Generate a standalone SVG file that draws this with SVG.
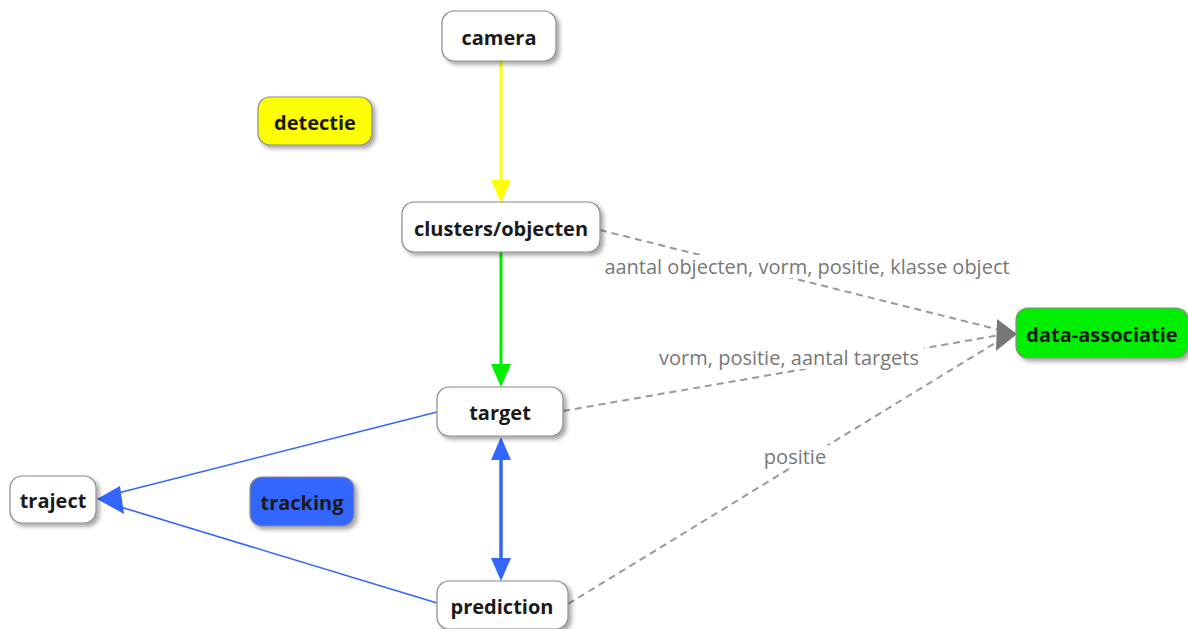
<svg xmlns="http://www.w3.org/2000/svg" width="1188" height="629" viewBox="0 0 1188 629">
<defs>
<filter id="sh" x="-20%" y="-30%" width="150%" height="170%">
<feDropShadow dx="3" dy="3" stdDeviation="2" flood-color="#000" flood-opacity="0.35"/>
</filter>
</defs>
<style>
.n rect{stroke:#8a8a8a;stroke-width:1.2;filter:url(#sh)}
.n text{font-family:"Open Sans","Noto Sans",sans-serif;font-weight:bold;font-size:20px;fill:#1a1a1a;text-anchor:middle;dominant-baseline:central}
.lbl{font-family:"Open Sans","Noto Sans",sans-serif;font-size:20px;fill:#777;text-anchor:middle;dominant-baseline:central}
.bg{fill:#fff}
.dash{stroke:#999;stroke-width:2;stroke-dasharray:7,5;fill:none}
</style>
<rect width="1188" height="629" fill="#fff"/>
<g id="connectors">
<line x1="501" y1="61" x2="501" y2="184" stroke="#ffff00" stroke-width="3"/>
<polygon points="501,203 491,180 511,180" fill="#ffff00"/>
<line x1="501" y1="252" x2="501" y2="368" stroke="#00ee00" stroke-width="3"/>
<polygon points="501,387 491,364 511,364" fill="#00ee00"/>
<line x1="501" y1="456" x2="501" y2="562" stroke="#3366ff" stroke-width="3.5"/>
<polygon points="501,437 491,460 511,460" fill="#3366ff"/>
<polygon points="501,581 491,558 511,558" fill="#3366ff"/>
<line x1="437" y1="412" x2="114" y2="494" stroke="#3366ff" stroke-width="1.6"/>
<line x1="437" y1="603" x2="114" y2="505" stroke="#3366ff" stroke-width="1.6"/>
<polygon points="97,499 120,486 124,514" fill="#3366ff"/>
<path class="dash" d="M600,230 L1000,330"/>
<path class="dash" d="M563,411 L1000,335"/>
<path class="dash" d="M568,604 L1000,340"/>
<polygon points="1017,334 997,319 996,351" fill="#777"/>
<rect class="bg" x="598" y="255" width="420" height="23"/>
<text class="lbl" x="807" y="266">aantal objecten, vorm, positie, klasse object</text>
<rect class="bg" x="654" y="346" width="270" height="23"/>
<text class="lbl" x="789" y="357">vorm, positie, aantal targets</text>
<rect class="bg" x="761" y="445" width="68" height="23"/>
<text class="lbl" x="795" y="456">positie</text>
</g>
<g id="camera" class="n"><rect x="442" y="11" width="114" height="50" rx="12" fill="#fff"/><text x="499" y="37">camera</text></g>
<g id="detectie" class="n"><rect x="258" y="97" width="114" height="48" rx="12" fill="#ffff00"/><text x="315" y="122">detectie</text></g>
<g id="clusters" class="n"><rect x="402" y="202" width="198" height="50" rx="12" fill="#fff"/><text x="501" y="228">clusters/objecten</text></g>
<g id="data-associatie" class="n"><rect x="1016" y="308" width="172" height="50" rx="12" fill="#00ee00"/><text x="1102" y="334">data-associatie</text></g>
<g id="target" class="n"><rect x="437" y="387" width="126" height="49" rx="12" fill="#fff"/><text x="500" y="412">target</text></g>
<g id="traject" class="n"><rect x="10" y="476" width="86" height="47" rx="12" fill="#fff"/><text x="53" y="500">traject</text></g>
<g id="tracking" class="n"><rect x="250" y="477" width="104" height="49" rx="12" fill="#3366ff"/><text x="302" y="502">tracking</text></g>
<g id="prediction" class="n"><rect x="437" y="581" width="131" height="48" rx="12" fill="#fff"/><text x="502" y="606">prediction</text></g>
</svg>
